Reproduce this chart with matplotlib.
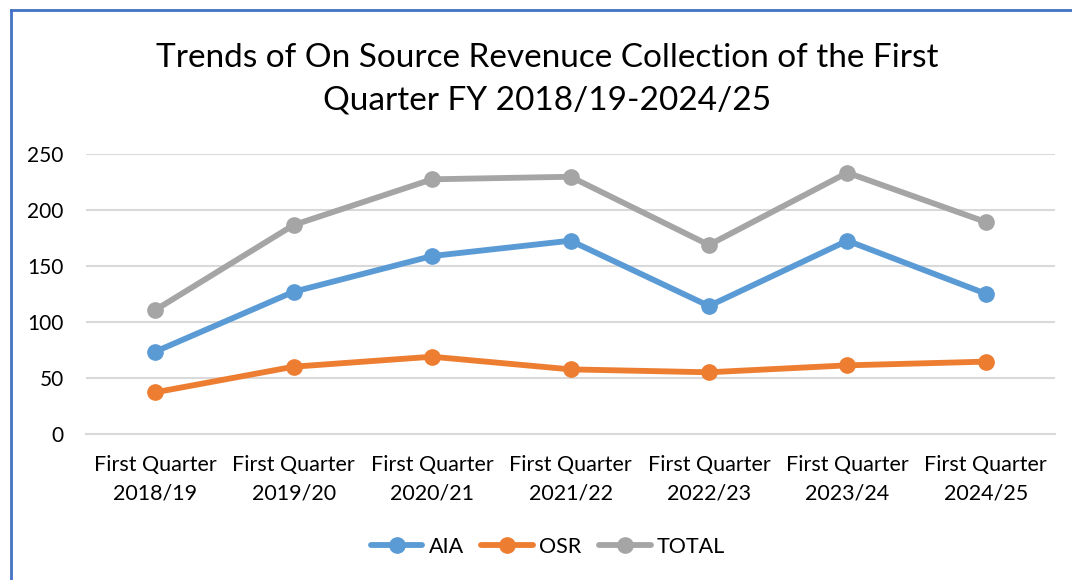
import matplotlib
matplotlib.use("Agg")
import matplotlib.pyplot as plt
from matplotlib.lines import Line2D

categories = ["First Quarter\n2018/19", "First Quarter\n2019/20", "First Quarter\n2020/21",
              "First Quarter\n2021/22", "First Quarter\n2022/23", "First Quarter\n2023/24",
              "First Quarter\n2024/25"]
aia = [73.5, 127.0, 158.9, 172.6, 114.3, 172.6, 125.3]
osr = [37.2, 60.1, 69.0, 57.7, 55.1, 61.3, 64.6]
total = [110.7, 186.6, 227.4, 229.7, 168.8, 233.3, 189.3]
yticks = [0, 50, 100, 150, 200, 250]
title = "Trends of On Source Revenuce Collection of the First\nQuarter FY 2018/19-2024/25"

plt.rcParams['font.family'] = ['Lato', 'DejaVu Sans']

W, H = 1072, 580
fig = plt.figure(figsize=(W/100, H/100), dpi=100)
ax = fig.add_axes([86/W, 1-434/H, (1055-86)/W, (434-154)/H])

x = list(range(len(categories)))
for vals, col, lab in [(aia, "#5B9BD5", "AIA"), (osr, "#ED7D31", "OSR"), (total, "#A5A5A5", "TOTAL")]:
    ax.plot(x, vals, color=col, lw=4.2, marker='o', ms=11, label=lab, solid_capstyle='round')

ax.set_xlim(-0.5, len(categories)-0.5)
ax.set_ylim(0, 250)
ax.set_yticks(yticks)
ax.set_xticks(x)
ax.set_xticklabels(categories, fontsize=15.5, linespacing=1.55)
ax.tick_params(axis='y', labelsize=15, length=0, pad=16)
ax.tick_params(axis='x', length=0, pad=15)
ax.grid(axis='y', color='#D9D9D9', lw=1.5)
ax.set_axisbelow(True)
for s in ax.spines.values():
    s.set_visible(False)
ax.spines['bottom'].set_visible(True)
ax.spines['bottom'].set_color('#D9D9D9')
ax.spines['bottom'].set_linewidth(1.5)

fig.text(547/W, 1-79/H, title, ha='center', va='center', fontsize=24, linespacing=1.5)

leg = fig.legend(loc='center', bbox_to_anchor=(548/W, 1-547/H), ncol=3, frameon=False,
                 fontsize=15.5, handlelength=2.4, columnspacing=0.8, handletextpad=0.3)

fig.add_artist(Line2D([10.5/W, 10.5/W], [0, 1-9.5/H], transform=fig.transFigure, color='#4472C4', lw=2))
fig.add_artist(Line2D([10.5/W, 1], [1-9.5/H, 1-9.5/H], transform=fig.transFigure, color='#4472C4', lw=2))

fig.savefig("out.png", dpi=100)
